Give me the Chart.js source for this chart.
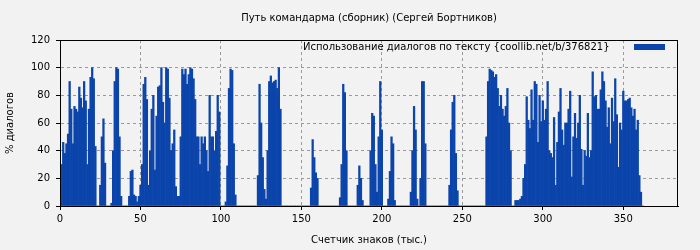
<!DOCTYPE html>
<html>
<head>
<meta charset="utf-8">
<script src="https://cdn.jsdelivr.net/npm/chart.js@4/dist/chart.umd.min.js"></script>
<style>
    html, body { margin: 0; padding: 0; background: #f2f2f2; }
    #wrap { width: 700px; height: 250px; }
</style>
</head>
<body>
<div id="wrap"><canvas id="grafica" width="700" height="250"></canvas></div>
<script>
const titulo = 'Путь командарма (сборник) (Сергей Бортников)';
const etiquetaSerie = 'Использование диалогов по тексту {coollib.net/b/376821}';
const tituloX = 'Счетчик знаков (тыс.)';
const tituloY = '% диалогов';

const xTicks = [0, 50, 100, 150, 200, 250, 300, 350];
const yTicks = [0, 20, 40, 60, 80, 100, 120];

// % диалогов на каждую тысячу знаков (0, 1, 2, ...)
const dialogos = [
    20, 30, 46, 38, 45, 52, 90, 70, 45, 72,
    70, 68, 86, 78, 71, 90, 76, 30, 70, 93,
    100, 92, 43, 0, 0, 15, 50, 63, 31, 0,
    0, 0, 2, 40, 90, 100, 99, 50, 7, 0,
    0, 0, 0, 7, 25, 26, 8, 7, 3, 7,
    15, 30, 88, 93, 77, 15, 40, 70, 80, 26,
    65, 86, 87, 100, 75, 60, 100, 99, 78, 40,
    45, 55, 14, 7, 7, 50, 99, 95, 99, 88,
    95, 100, 99, 92, 77, 50, 50, 30, 50, 45,
    50, 40, 25, 80, 50, 50, 40, 54, 80, 68,
    0, 0, 0, 3, 29, 85, 99, 98, 45, 8,
    0, 0, 0, 0, 0, 0, 0, 0, 0, 0,
    0, 0, 0, 22, 88, 60, 35, 12, 5, 40,
    90, 94, 89, 90, 91, 85, 100, 70, 0, 0,
    0, 0, 0, 0, 0, 0, 0, 0, 0, 0,
    0, 0, 0, 0, 0, 0, 13, 48, 35, 24,
    20, 0, 0, 0, 0, 0, 0, 0, 0, 0,
    0, 0, 0, 0, 6, 30, 88, 82, 40, 0,
    0, 0, 0, 0, 0, 15, 29, 20, 4, 0,
    0, 0, 0, 40, 67, 65, 30, 10, 50, 90,
    55, 0, 0, 0, 5, 25, 50, 45, 4, 0,
    0, 0, 0, 0, 0, 0, 0, 0, 10, 40,
    72, 55, 5, 0, 20, 90, 90, 45, 0, 0,
    0, 0, 0, 0, 0, 0, 0, 0, 0, 0,
    0, 0, 15, 55, 75, 80, 38, 11, 0, 0,
    0, 0, 0, 0, 0, 0, 0, 0, 0, 0,
    0, 0, 0, 0, 0, 50, 90, 99, 98, 97,
    93, 95, 85, 72, 80, 70, 65, 72, 85, 60,
    40, 0, 0, 4, 4, 4, 5, 7, 20, 30,
    79, 62, 56, 84, 62, 90, 88, 46, 80, 61,
    76, 62, 70, 90, 40, 38, 35, 64, 15, 46,
    68, 85, 55, 44, 60, 60, 70, 83, 21, 50,
    67, 49, 60, 80, 41, 15, 40, 36, 67, 35,
    40, 97, 79, 80, 70, 70, 84, 97, 90, 76,
    57, 71, 45, 78, 61, 92, 66, 28, 60, 55,
    83, 76, 76, 77, 78, 71, 65, 70, 55, 62,
    22, 10, 0
];

const fuente = { family: '"DejaVu Sans", sans-serif', size: 10 };
const azul = '#0b44aa';

const decorado = {
    id: 'decorado',
    beforeDraw(chart) {
        const c = chart.ctx;
        c.save();
        c.fillStyle = '#f2f2f2';
        c.fillRect(0, 0, chart.width, chart.height);
        c.restore();
    },
    afterDraw(chart) {
        const c = chart.ctx;
        const a = chart.chartArea;
        c.save();
        c.font = '10px "DejaVu Sans", sans-serif';
        c.textBaseline = 'middle';

        // marco
        c.strokeStyle = '#000';
        c.lineWidth = 1;
        c.strokeRect(a.left + 0.5, a.top + 0.5, a.right - a.left - 1, a.bottom - a.top);

        // leyenda dentro del área
        c.fillStyle = '#000';
        c.textAlign = 'left';
        c.fillText(etiquetaSerie, 303, a.top + 7.5);
        c.fillStyle = azul;
        c.fillRect(634, a.top + 4, 31, 6);

        c.fillStyle = '#000';
        c.textAlign = 'center';
        c.fillText(titulo, (a.left + a.right) / 2, 18);
        c.fillText(tituloX, (a.left + a.right) / 2, 240);

        c.translate(10, (a.top + a.bottom) / 2);
        c.rotate(-Math.PI / 2);
        c.fillText(tituloY, 0, 0);
        c.restore();
    }
};

new Chart(document.getElementById('grafica'), {
    type: 'bar',
    data: {
        datasets: [{
            label: etiquetaSerie,
            data: dialogos.map((v, i) => ({ x: i, y: v })),
            backgroundColor: azul,
            borderWidth: 0,
            barPercentage: 1,
            categoryPercentage: 1
        }]
    },
    options: {
        responsive: false,
        animation: false,
        layout: { padding: { top: 40, right: 22, left: 0, bottom: 0 } },
        plugins: {
            legend: { display: false },
            title: { display: false },
            tooltip: { enabled: false }
        },
        scales: {
            x: {
                type: 'linear',
                min: 0,
                max: 384,
                offset: false,
                afterBuildTicks: s => { s.ticks = xTicks.map(v => ({ value: v })); },
                afterFit: s => { s.height = 44; },
                grid: { color: '#9a9a9a', tickColor: '#000', tickLength: 4, offset: false },
                border: { dash: [3, 3], color: '#000' },
                ticks: { font: fuente, color: '#000', padding: 3, maxRotation: 0 }
            },
            y: {
                min: 0,
                max: 120,
                afterBuildTicks: s => { s.ticks = yTicks.map(v => ({ value: v })); },
                afterFit: s => { s.width = 60; },
                grid: { color: '#9a9a9a', tickColor: '#000', tickLength: 4 },
                border: { dash: [3, 3], color: '#000' },
                ticks: { font: fuente, color: '#000', padding: 6 }
            }
        }
    },
    plugins: [decorado]
});
</script>
</body>
</html>
